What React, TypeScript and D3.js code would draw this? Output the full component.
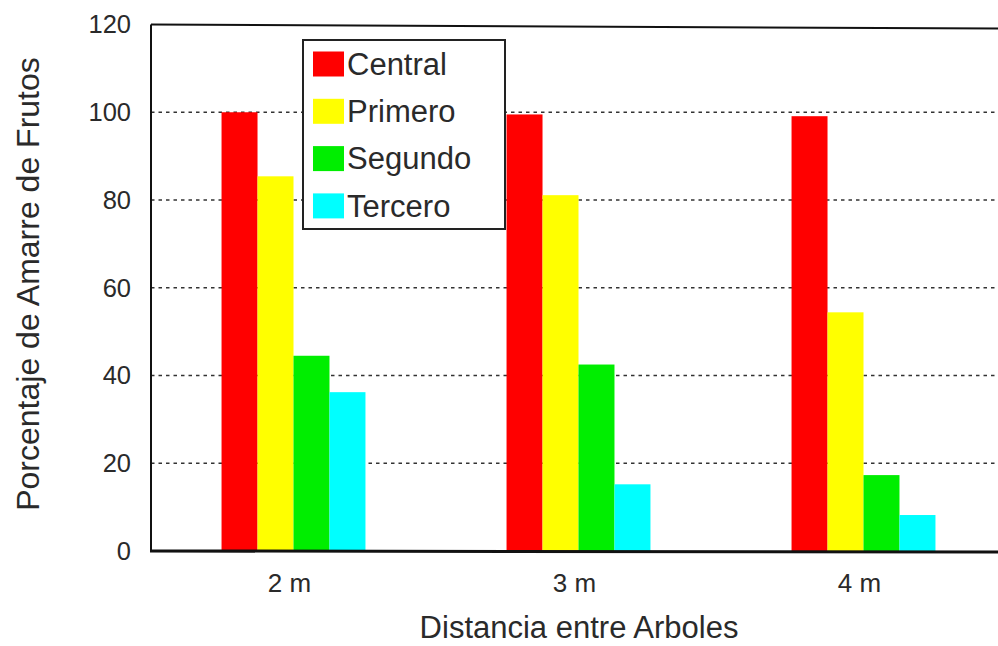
import React from "react";
import * as d3 from "d3";

const categories = ["2 m", "3 m", "4 m"];
const seriesNames = ["Central", "Primero", "Segundo", "Tercero"];
const central = [100, 99.5, 99.1];
const primero = [85.4, 81.1, 54.4];
const segundo = [44.5, 42.5, 17.3];
const tercero = [36.2, 15.2, 8.2];
const yTicks = [0, 20, 40, 60, 80, 100, 120];
const colors = ["#ff0000", "#ffff00", "#00ee00", "#00ffff"];

const seriesValues = [central, primero, segundo, tercero];

const W = 998;
const H = 646;
const left = 151;
const top = 24.5;
const bottom = 551;
const right = 1006;

const FONT = "'Liberation Sans', Arial, sans-serif";
const TEXT = "#2a2a2a";

export default function App() {
  const x = d3
    .scaleBand<string>()
    .domain(categories)
    .range([left, right])
    .paddingInner(0.495)
    .paddingOuter(0.2475);
  const x1 = d3
    .scaleBand<string>()
    .domain(seriesNames)
    .range([0, x.bandwidth()])
    .padding(0);
  const y = d3.scaleLinear().domain([0, 120]).range([bottom, top]);

  const legendX = 303;
  const legendY = 40;
  const legendW = 202;
  const legendH = 189;
  const rowGap = 47.3;

  return (
    <div style={{ position: "absolute", left: 0, top: 0 }}>
      <svg width={W} height={H} style={{ display: "block", background: "#fff" }}>
        {/* dotted gridlines */}
        {yTicks
          .filter((t) => t > 0 && t < 120)
          .map((t) => (
            <line
              key={t}
              x1={left}
              x2={W}
              y1={y(t)}
              y2={y(t)}
              stroke="#333"
              strokeWidth={1.6}
              strokeDasharray="3.5,4"
            />
          ))}

        {/* bars */}
        {categories.map((c, ci) => (
          <g key={c} transform={`translate(${x(c)},0)`}>
            {seriesNames.map((s, si) => (
              <rect
                key={s}
                x={x1(s)}
                y={y(seriesValues[si][ci])}
                width={x1.bandwidth()}
                height={y(0) - y(seriesValues[si][ci])}
                fill={colors[si]}
              />
            ))}
          </g>
        ))}

        {/* frame */}
        <line x1={left} x2={W} y1={top} y2={top + 4} stroke="#111" strokeWidth={2} />
        <line x1={left} x2={left} y1={top} y2={bottom} stroke="#111" strokeWidth={2} />
        <line x1={left - 1} x2={W} y1={bottom} y2={bottom + 1} stroke="#111" strokeWidth={3} />

        {/* y tick labels */}
        {yTicks.map((t) => (
          <text
            key={t}
            x={131}
            y={y(t)}
            dy="0.35em"
            textAnchor="end"
            fontFamily={FONT}
            fontSize={25.5}
            fill={TEXT}
          >
            {t}
          </text>
        ))}

        {/* x tick labels */}
        {categories.map((c) => (
          <text
            key={c}
            x={(x(c) as number) + x.bandwidth() / 2 - 4}
            y={583}
            dy="0.35em"
            textAnchor="middle"
            fontFamily={FONT}
            fontSize={26}
            fill={TEXT}
          >
            {c}
          </text>
        ))}

        {/* axis titles */}
        <text
          x={579}
          y={627.5}
          dy="0.35em"
          textAnchor="middle"
          fontFamily={FONT}
          fontSize={31}
          fill={TEXT}
        >
          Distancia entre Arboles
        </text>
        <text
          transform={`translate(28,${284}) rotate(-90)`}
          dy="0.35em"
          textAnchor="middle"
          fontFamily={FONT}
          fontSize={32}
          fill={TEXT}
        >
          Porcentaje de Amarre de Frutos
        </text>

        {/* legend */}
        <rect
          x={legendX}
          y={legendY}
          width={legendW}
          height={legendH}
          fill="#fff"
          stroke="#222"
          strokeWidth={2}
        />
        {seriesNames.map((s, i) => (
          <g key={s} transform={`translate(${legendX + 10},${legendY + 24 + i * rowGap})`}>
            <rect x={0} y={-12.5} width={31} height={25} fill={colors[i]} />
            <text
              x={34}
              y={0}
              dy="0.35em"
              fontFamily={FONT}
              fontSize={31}
              fill={TEXT}
            >
              {s}
            </text>
          </g>
        ))}
      </svg>
    </div>
  );
}
